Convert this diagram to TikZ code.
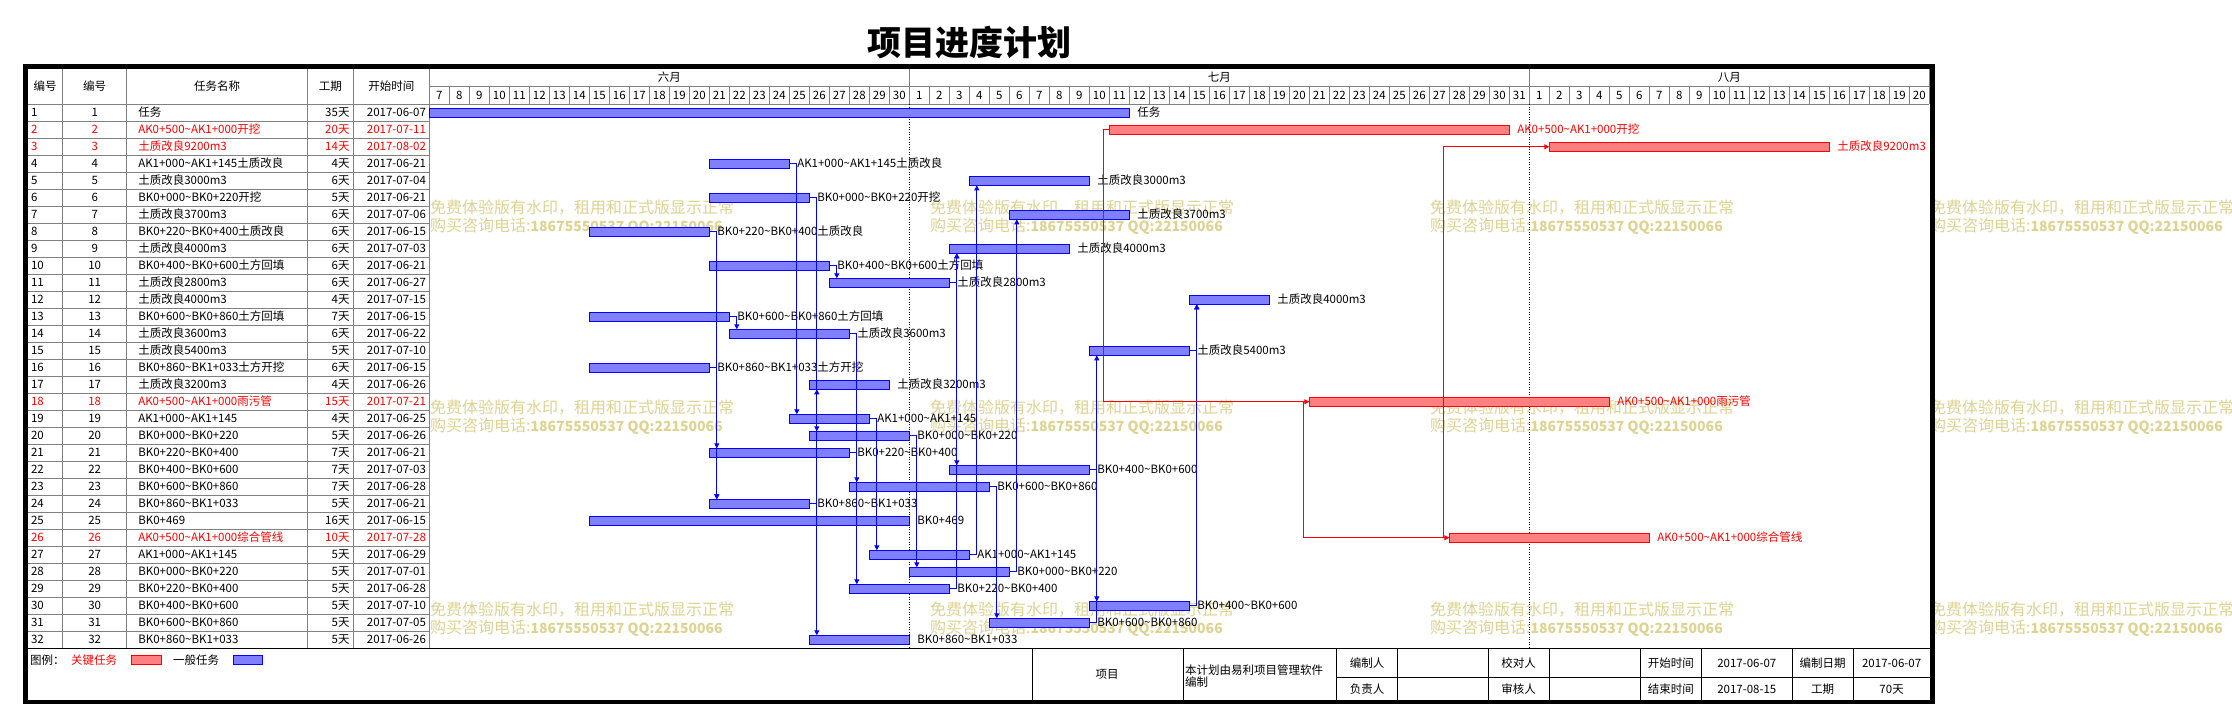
\documentclass[tikz,border=0pt]{standalone}
\usepackage{fontspec}
\setmainfont{Noto Sans CJK SC}
\usetikzlibrary{arrows.meta}
\definecolor{barblue}{RGB}{128,128,255}
\definecolor{barred}{RGB}{255,128,128}
\definecolor{wmark}{RGB}{222,211,145}
\definecolor{gridgray}{RGB}{128,128,128}
\newcommand\tld{\textasciitilde}
\newcommand\tfont{\fontsize{11.5}{13}\selectfont}
\newcommand\wfont{\fontsize{16}{18}\selectfont}
\newcommand\wnum{\fontsize{14}{16}\selectfont\bfseries}
\tikzset{
  cell/.style={inner sep=0pt, outer sep=0pt, font=\tfont, text height=9.5pt, text depth=1.5pt},
  txtb/.style={text=black},
  txtr/.style={text=red},
  barb/.style={draw=blue, fill=barblue, line width=1pt, inner sep=0pt, outer sep=0pt, minimum height=9pt, anchor=west},
  barr/.style={draw=red, fill=barred, line width=1pt, inner sep=0pt, outer sep=0pt, minimum height=9pt, anchor=west},
  gridline/.style={draw=gridgray, line width=1pt},
  blackline/.style={draw=black, line width=1pt},
  monthsep/.style={draw=black, line width=1pt, dash pattern=on 1pt off 1.5pt},
  blink/.style={draw=blue, line width=1pt, -{Triangle[length=5pt,width=5pt]}},
  rlink/.style={draw=red, line width=1pt, -{Triangle[length=5pt,width=5pt]}},
  wm/.style={inner sep=0pt, anchor=west, text=wmark, font=\wfont},
}
\newcommand\taskrow[6]{%
  \node[cell,anchor=west,txt#2] (ca#1) at (31,{95.8+17*#1}) {#1};
  \node[cell,txt#2] (cb#1) at (94.7,{95.8+17*#1}) {#1};
  \node[cell,anchor=west,txt#2] (cc#1) at (138.3,{95.8+17*#1}) {#3};
  \node[cell,anchor=east,txt#2] (cd#1) at (349.5,{95.8+17*#1}) {#4天};
  \node[cell,anchor=east,txt#2] (ce#1) at (426,{95.8+17*#1}) {#5};
  \node[bar#2,minimum width=#4*20pt] (b#1) at ({429.3+20*#6},{95.8+17*#1}) {};
  \node[cell,anchor=west,txt#2] (l#1) at ([xshift=8pt]b#1.east) {#3};
  \coordinate (k#1) at ([xshift=7.5pt]b#1.east);
  \coordinate (s#1) at ([xshift=-6pt]b#1.west);
}
\newcommand\linkdown[2]{\draw[blink] (b#1.east) -- (k#1) -- (k#1 |- b#2.north);}
\newcommand\linkup[2]{\draw[blink] (b#1.east) -- (k#1) -- (k#1 |- b#2.south);}
\newcommand\linkss[2]{\draw[rlink] (b#1.west) -- (s#1) |- (b#2.west);}
\begin{document}
\begin{tikzpicture}[x=1pt,y=-1pt]
\useasboundingbox (0,0) rectangle (2232,725);
\fill[white] (0,0) rectangle (2232,725);

% watermark
\foreach \wx in {430,930,1430,1930} {
  \foreach \wy in {208,408,610} {
    \node[wm] (wa\wx-\wy) at (\wx,\wy) {免费体验版有水印，租用和正式版显示正常};
    \node[wm] (wb\wx-\wy) at (\wx,{\wy+18}) {购买咨询电话:{\wnum 18675550537 QQ:22150066}};
  }
}

% title
\node[inner sep=0pt, font=\fontsize{34}{40}\selectfont\bfseries] (title) at (969,43) {项目进度计划};

% header grid
\draw[gridline] (429.3,86.7) -- (1929.3,86.7);
\draw[gridline] (909.3,69) -- (909.3,86.7) (1529.3,69) -- (1529.3,86.7) (1929.3,69) -- (1929.3,104.3);
\foreach \i in {1,...,74} \draw[gridline] ({429.3+20*\i},86.7) -- ({429.3+20*\i},104.3);
\draw[gridline] (27.5,104.3) -- (1929.3,104.3);
\foreach \i in {1,...,31} \draw[gridline] (27.5,{104.3+17*\i}) -- (429.3,{104.3+17*\i});
\foreach \x in {62.7,126.7,307.3,353.3,429.3} \draw[gridline] (\x,69) -- (\x,648.3);
\draw[monthsep] (909.3,104.3) -- (909.3,648.3);
\draw[monthsep] (1529.3,104.3) -- (1529.3,648.3);

% header texts
\node[cell] (h1) at (45,86.7) {编号};
\node[cell] (h2) at (94.7,86.7) {编号};
\node[cell] (h3) at (217,86.7) {任务名称};
\node[cell] (h4) at (330.3,86.7) {工期};
\node[cell] (h5) at (391.3,86.7) {开始时间};
\node[cell] (m6) at (669.3,77.8) {六月};
\node[cell] (m7) at (1219.3,77.8) {七月};
\node[cell] (m8) at (1729.3,77.8) {八月};
\foreach \d in {7,...,30} \node[cell] (dj\d) at ({429.3+20*(\d-7)+10},95.5) {\d};
\foreach \d in {1,...,31} \node[cell] (dy\d) at ({909.3+20*(\d-1)+10},95.5) {\d};
\foreach \d in {1,...,20} \node[cell] (da\d) at ({1529.3+20*(\d-1)+10},95.5) {\d};

% rows: row, kind, name, duration, date, start day
\taskrow{1}{b}{任务}{35}{2017-06-07}{0}
\taskrow{2}{r}{AK0+500\tld AK1+000开挖}{20}{2017-07-11}{34}
\taskrow{3}{r}{土质改良9200m3}{14}{2017-08-02}{56}
\taskrow{4}{b}{AK1+000\tld AK1+145土质改良}{4}{2017-06-21}{14}
\taskrow{5}{b}{土质改良3000m3}{6}{2017-07-04}{27}
\taskrow{6}{b}{BK0+000\tld BK0+220开挖}{5}{2017-06-21}{14}
\taskrow{7}{b}{土质改良3700m3}{6}{2017-07-06}{29}
\taskrow{8}{b}{BK0+220\tld BK0+400土质改良}{6}{2017-06-15}{8}
\taskrow{9}{b}{土质改良4000m3}{6}{2017-07-03}{26}
\taskrow{10}{b}{BK0+400\tld BK0+600土方回填}{6}{2017-06-21}{14}
\taskrow{11}{b}{土质改良2800m3}{6}{2017-06-27}{20}
\taskrow{12}{b}{土质改良4000m3}{4}{2017-07-15}{38}
\taskrow{13}{b}{BK0+600\tld BK0+860土方回填}{7}{2017-06-15}{8}
\taskrow{14}{b}{土质改良3600m3}{6}{2017-06-22}{15}
\taskrow{15}{b}{土质改良5400m3}{5}{2017-07-10}{33}
\taskrow{16}{b}{BK0+860\tld BK1+033土方开挖}{6}{2017-06-15}{8}
\taskrow{17}{b}{土质改良3200m3}{4}{2017-06-26}{19}
\taskrow{18}{r}{AK0+500\tld AK1+000雨污管}{15}{2017-07-21}{44}
\taskrow{19}{b}{AK1+000\tld AK1+145}{4}{2017-06-25}{18}
\taskrow{20}{b}{BK0+000\tld BK0+220}{5}{2017-06-26}{19}
\taskrow{21}{b}{BK0+220\tld BK0+400}{7}{2017-06-21}{14}
\taskrow{22}{b}{BK0+400\tld BK0+600}{7}{2017-07-03}{26}
\taskrow{23}{b}{BK0+600\tld BK0+860}{7}{2017-06-28}{21}
\taskrow{24}{b}{BK0+860\tld BK1+033}{5}{2017-06-21}{14}
\taskrow{25}{b}{BK0+469}{16}{2017-06-15}{8}
\taskrow{26}{r}{AK0+500\tld AK1+000综合管线}{10}{2017-07-28}{51}
\taskrow{27}{b}{AK1+000\tld AK1+145}{5}{2017-06-29}{22}
\taskrow{28}{b}{BK0+000\tld BK0+220}{5}{2017-07-01}{24}
\taskrow{29}{b}{BK0+220\tld BK0+400}{5}{2017-06-28}{21}
\taskrow{30}{b}{BK0+400\tld BK0+600}{5}{2017-07-10}{33}
\taskrow{31}{b}{BK0+600\tld BK0+860}{5}{2017-07-05}{28}
\taskrow{32}{b}{BK0+860\tld BK1+033}{5}{2017-06-26}{19}

% links
\linkdown{4}{19}
\linkdown{19}{27}
\linkdown{6}{20}
\linkup{24}{17}
\linkdown{24}{32}
\linkdown{8}{21}
\linkdown{8}{24}
\linkdown{16}{24}
\linkdown{10}{11}
\linkup{11}{9}
\linkdown{11}{22}
\linkup{29}{9}
\linkdown{13}{14}
\linkdown{14}{23}
\linkdown{21}{29}
\linkdown{20}{28}
\linkdown{23}{31}
\linkup{27}{5}
\linkup{28}{7}
\linkdown{22}{30}
\linkup{31}{15}
\linkup{30}{12}
\linkup{15}{12}
\linkss{2}{18}
\linkss{18}{26}
\linkss{26}{3}

% bottom line of table
\draw[line width=1.2pt] (27.5,648.3) -- (1930,648.3);

% legend
\node[cell,anchor=west] (lg0) at (30,660) {图例：};
\node[cell,anchor=west,txtr] (lg1) at (71,660) {关键任务};
\node[barr,minimum width=29.5pt] (lgr) at (131.5,660) {};
\node[cell,anchor=west] (lg2) at (173,660) {一般任务};
\node[barb,minimum width=29.5pt] (lgb) at (233.3,660) {};

% footer
\foreach \x in {1032.5,1183.5,1336.7,1397.2,1488.5,1549,1640.3,1701.4,1792.1,1853.2}
  \draw[blackline] (\x,648.3) -- (\x,700);
\draw[blackline] (1336.7,677.7) -- (1930,677.7);
\node[cell] (f1) at (1107,674) {项目};
\node[cell,anchor=west] (f2) at (1185,670.7) {本计划由易利项目管理软件};
\node[cell,anchor=west] (f3) at (1185,682.5) {编制};
\node[cell] (f4) at (1367,663) {编制人};
\node[cell] (f5) at (1518.7,663) {校对人};
\node[cell] (f6) at (1670.9,663) {开始时间};
\node[cell] (f7) at (1746.8,663) {2017-06-07};
\node[cell] (f8) at (1822.7,663) {编制日期};
\node[cell] (f9) at (1891.6,663) {2017-06-07};
\node[cell] (f10) at (1367,689) {负责人};
\node[cell] (f11) at (1518.7,689) {审核人};
\node[cell] (f12) at (1670.9,689) {结束时间};
\node[cell] (f13) at (1746.8,689) {2017-08-15};
\node[cell] (f14) at (1822.7,689) {工期};
\node[cell] (f15) at (1891.6,689) {70天};

% outer frame
\draw[line width=4.5pt] (25.3,66.7) rectangle (1932.3,701.8);
\end{tikzpicture}
\end{document}
